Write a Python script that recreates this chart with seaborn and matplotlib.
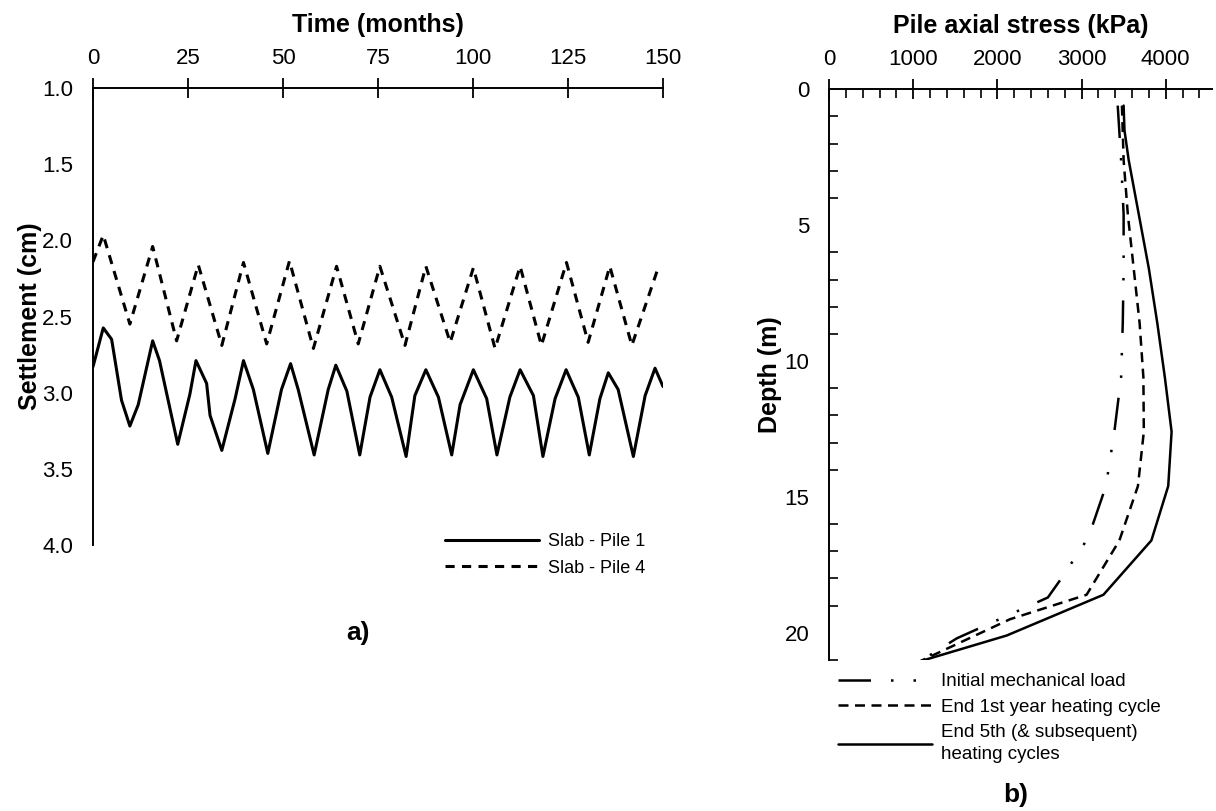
import matplotlib.pyplot as plt
from matplotlib.ticker import MultipleLocator
import seaborn as sns

sns.set_style("white")
plt.rcParams['font.family'] = ['Liberation Sans', 'DejaVu Sans']
plt.rcParams['text.color'] = 'black'
plt.rcParams['axes.labelcolor'] = 'black'
plt.rcParams['xtick.color'] = 'black'
plt.rcParams['ytick.color'] = 'black'

# a) settlement over time
t_pile1 = [0, 2.7, 4.9, 7.5, 9.7, 11.9, 15.7, 17.5, 22.3, 25.5, 27.1, 29.9, 30.8, 33.9,
           37.4, 39.6, 42.2, 46.0, 49.6, 52.0, 54.0, 58.2, 61.9, 63.9, 66.8, 70.2,
           72.9, 75.5, 78.6, 82.4, 84.7, 87.6, 90.9, 94.4, 96.6, 100.1, 103.6, 106.3,
           109.7, 112.4, 115.9, 118.4, 121.6, 124.5, 127.7, 130.6, 133.4, 135.6, 138.2,
           142.2, 145.3, 147.9, 150.0]
s_pile1 = [2.83, 2.575, 2.65, 3.05, 3.22, 3.08, 2.66, 2.79, 3.34, 3.01, 2.79, 2.94, 3.15, 3.38,
           3.04, 2.79, 2.98, 3.40, 2.98, 2.81, 2.98, 3.41, 2.98, 2.82, 2.99, 3.41,
           3.03, 2.85, 3.03, 3.42, 3.02, 2.85, 3.03, 3.41, 3.08, 2.85, 3.04, 3.41,
           3.03, 2.85, 3.02, 3.42, 3.04, 2.85, 3.03, 3.41, 3.04, 2.87, 2.98,
           3.42, 3.02, 2.84, 2.96]

t_pile4 = [0, 2.7, 9.7, 15.7, 22.0, 27.7, 33.9, 39.6, 45.7, 51.7, 58.0, 64.1, 69.8,
           75.5, 82.1, 87.6, 94.0, 100.1, 105.8, 112.4, 118.0, 124.6, 130.3, 136.0,
           141.8, 149.0]
s_pile4 = [2.14, 1.965, 2.55, 2.04, 2.66, 2.16, 2.69, 2.145, 2.68, 2.135, 2.71, 2.17, 2.68,
           2.17, 2.69, 2.17, 2.67, 2.18, 2.71, 2.17, 2.69, 2.145, 2.67, 2.17,
           2.69, 2.16]

# b) pile axial stress with depth
depth_initial = [0.6, 2.6, 4.6, 6.6, 8.6, 10.6, 12.6, 14.6, 16.5, 18.0, 18.7, 20.2, 21.05]
stress_initial = [3430, 3470, 3500, 3500, 3490, 3470, 3390, 3290, 3080, 2760, 2600, 1520, 1080]

depth_1st = [0.6, 2.6, 4.6, 6.6, 8.6, 10.6, 12.6, 14.6, 16.6, 18.6, 19.5, 21.05]
stress_1st = [3480, 3500, 3550, 3620, 3690, 3735, 3740, 3670, 3450, 3060, 2150, 1080]

depth_5th = [0.6, 1.5, 2.6, 4.6, 6.6, 8.6, 10.6, 12.6, 14.6, 16.6, 18.6, 20.1, 21.05]
stress_5th = [3500, 3510, 3560, 3680, 3800, 3900, 3990, 4070, 4030, 3830, 3260, 2110, 1080]

fig = plt.figure(figsize=(12.16, 8.11), dpi=100)
ax1 = fig.add_axes([93 / 1216, 1 - 544.7 / 811, 570 / 1216, 456.4 / 811])
ax2 = fig.add_axes([829 / 1216, 1 - 660 / 811, 383 / 1216, 570.7 / 811])

# panel a
sns.lineplot(x=t_pile1, y=s_pile1, ax=ax1, color='black', linewidth=2.2,
             sort=False, estimator=None)
sns.lineplot(x=t_pile4, y=s_pile4, ax=ax1, color='black', linewidth=2.2,
             sort=False, estimator=None, linestyle=(0, (3, 2.4)))
ax1.set_xlim(0, 150)
ax1.set_ylim(4.0, 1.0)
ax1.xaxis.tick_top()
ax1.xaxis.set_label_position('top')
ax1.xaxis.set_major_locator(MultipleLocator(25))
ax1.yaxis.set_major_locator(MultipleLocator(0.5))
ax1.yaxis.set_major_formatter('{x:.1f}')
ax1.tick_params(which='major', direction='inout', length=14.5, width=1.3,
                labelsize=16, pad=7, color='black')
ax1.set_xlabel("Time (months)", fontsize=18, fontweight='bold', labelpad=11.5)
ax1.set_ylabel("Settlement (cm)", fontsize=18, fontweight='bold', labelpad=0)
for side in ['right', 'bottom']:
    ax1.spines[side].set_visible(False)
for side in ['top', 'left']:
    ax1.spines[side].set_color('black')
    ax1.spines[side].set_linewidth(1.4)
ax1.legend(handles=ax1.get_lines(), labels=["Slab - Pile 1", "Slab - Pile 4"],
           loc='center left', bbox_to_anchor=(445 / 1216, 1 - 555 / 811),
           bbox_transform=fig.transFigure, frameon=False, fontsize=13,
           handlelength=5.2, handletextpad=0.5, labelspacing=0.5,
           borderpad=0, borderaxespad=0)

# panel b
sns.lineplot(x=stress_initial, y=depth_initial, ax=ax2, color='black', linewidth=1.8,
             sort=False, estimator=None, orient='y',
             linestyle=(0, (13, 8, 1, 8, 1, 8)))
sns.lineplot(x=stress_1st, y=depth_1st, ax=ax2, color='black', linewidth=1.8,
             sort=False, estimator=None, orient='y', linestyle=(0, (4, 2.6)))
sns.lineplot(x=stress_5th, y=depth_5th, ax=ax2, color='black', linewidth=1.8,
             sort=False, estimator=None, orient='y')
ax2.set_xlim(0, 4550)
ax2.set_ylim(21, 0)
ax2.xaxis.tick_top()
ax2.xaxis.set_label_position('top')
ax2.xaxis.set_major_locator(MultipleLocator(1000))
ax2.xaxis.set_minor_locator(MultipleLocator(200))
ax2.yaxis.set_major_locator(MultipleLocator(5))
ax2.yaxis.set_minor_locator(MultipleLocator(1))
ax2.tick_params(which='major', direction='inout', length=14.5, width=1.3,
                labelsize=16, pad=7, color='black')
ax2.tick_params(which='minor', direction='in', length=6.5, width=1.2, color='black')
ax2.tick_params(axis='x', which='minor', top=True, bottom=False)
ax2.tick_params(axis='y', which='minor', left=True, right=False)
ax2.set_xlabel("Pile axial stress (kPa)", fontsize=18, fontweight='bold', labelpad=11.5)
ax2.set_ylabel("Depth (m)", fontsize=18, fontweight='bold', labelpad=2)
for side in ['right', 'bottom']:
    ax2.spines[side].set_visible(False)
for side in ['top', 'left']:
    ax2.spines[side].set_color('black')
    ax2.spines[side].set_linewidth(1.4)
leg2 = ax2.legend(handles=ax2.get_lines(),
                  labels=["Initial mechanical load", "End 1st year heating cycle",
                          "End 5th (& subsequent)\nheating cycles"],
                  loc='center left', bbox_to_anchor=(838 / 1216, 1 - 718 / 811),
                  bbox_transform=fig.transFigure, frameon=False, fontsize=13.5,
                  handlelength=5.0, handletextpad=0.5, labelspacing=0.45,
                  borderpad=0, borderaxespad=0)
for txt in leg2.get_texts():
    txt.set_linespacing(1.35)

fig.text(358 / 1216, 1 - 633 / 811, "a)", fontsize=19, fontweight='bold',
         ha='center', va='center')
fig.text(1016 / 1216, 1 - 795 / 811, "b)", fontsize=19, fontweight='bold',
         ha='center', va='center')

fig.savefig("out.png", dpi=100, facecolor='white')
plt.close(fig)
